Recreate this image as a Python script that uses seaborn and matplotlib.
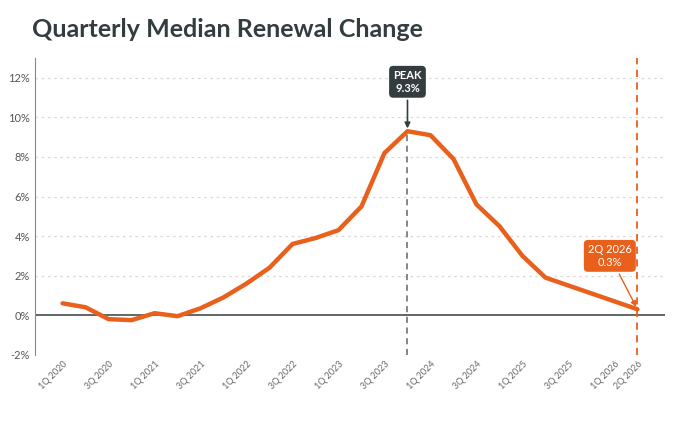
import matplotlib
matplotlib.use("Agg")
import matplotlib.pyplot as plt
import seaborn as sns
import pandas as pd

quarters = ["1Q 2020","2Q 2020","3Q 2020","4Q 2020","1Q 2021","2Q 2021","3Q 2021","4Q 2021",
            "1Q 2022","2Q 2022","3Q 2022","4Q 2022","1Q 2023","2Q 2023","3Q 2023","4Q 2023",
            "1Q 2024","2Q 2024","3Q 2024","4Q 2024","1Q 2025","2Q 2025","3Q 2025","4Q 2025",
            "1Q 2026","2Q 2026"]
values = [0.6,0.4,-0.2,-0.25,0.1,-0.05,0.35,0.9,1.6,2.4,3.6,3.9,4.3,5.5,8.2,9.3,
          9.1,7.9,5.6,4.5,3.0,1.9,1.5,1.1,0.7,0.3]
tick_labels = ["1Q 2020","3Q 2020","1Q 2021","3Q 2021","1Q 2022","3Q 2022","1Q 2023",
               "3Q 2023","1Q 2024","3Q 2024","1Q 2025","3Q 2025","1Q 2026","2Q 2026"]

df = pd.DataFrame({"x": range(len(quarters)), "v": values})
sns.set_style("white")
plt.rcParams['font.family'] = ['Lato', 'DejaVu Sans']
orange = "#E8601C"
dark = "#333D40"

fig = plt.figure(figsize=(7, 4.3), dpi=100)
ax = fig.add_axes([0.05, 0.175, 0.90, 0.69])
for y in range(2, 14, 2):
    ax.axhline(y, color="#d8d8d8", ls=(0, (2, 3)), lw=0.9, zorder=0)
ax.axhline(0, color="#555a5c", lw=1.3, zorder=1)
sns.lineplot(data=df, x="x", y="v", color=orange, lw=3.2, ax=ax, zorder=3)

pk = values.index(max(values))
ax.axvline(pk, ymax=(values[pk] + 2) / 15, color="#666", ls=(0, (4, 3)), lw=1.1, zorder=2)
last = len(values) - 1
ax.axvline(last, color=orange, ls=(0, (4, 3)), lw=1.3, zorder=2)

ax.annotate(f"PEAK\n{values[pk]:.1f}%", xy=(pk, values[pk]), xytext=(pk, 11.8),
            ha="center", va="center", color="white", fontsize=8, fontweight="bold",
            bbox=dict(boxstyle="round,pad=0.3", fc=dark, ec=dark),
            arrowprops=dict(arrowstyle="-|>", color=dark, lw=1.2), zorder=5)
ax.annotate(f"2Q 2026\n{values[last]:.1f}%", xy=(last, values[last]), xytext=(last - 1.2, 3.0),
            ha="center", va="center", color="white", fontsize=8,
            bbox=dict(boxstyle="round,pad=0.3", fc=orange, ec=orange),
            arrowprops=dict(arrowstyle="-|>", color=orange, lw=1), zorder=5)

ax.set_ylim(-2, 13)
ax.set_xlim(-1.2, 26.2)
ax.set_yticks(range(-2, 13, 2))
ax.set_yticklabels([f"{y}%" for y in range(-2, 13, 2)], fontsize=8, color="#555")
pos = [quarters.index(t) for t in tick_labels]
ax.set_xticks(pos)
ax.set_xticklabels(tick_labels, rotation=45, ha="right", fontsize=6.5, color="#666",
                   rotation_mode="anchor")
ax.set_xlabel(""); ax.set_ylabel("")
for s in ["top", "right", "bottom"]:
    ax.spines[s].set_visible(False)
ax.spines["left"].set_color("#888")
ax.tick_params(length=0)
fig.text(0.045, 0.915, "Quarterly Median Renewal Change", fontsize=18, fontweight="bold", color=dark)
fig.savefig("out.png", dpi=100)
